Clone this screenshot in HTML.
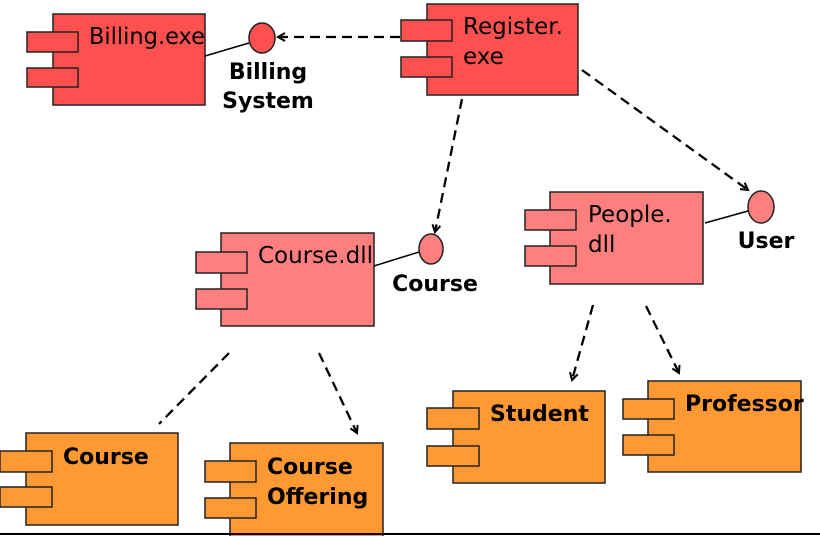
<!DOCTYPE html>
<html><head><meta charset="utf-8"><style>
html,body{margin:0;padding:0;background:#fff;width:820px;height:536px;overflow:hidden}
text{font-family:"DejaVu Sans","Liberation Sans",sans-serif;fill:#000}
.b{font-weight:bold}
rect,ellipse{stroke:#222;stroke-width:1.5}
.r{fill:#ff5050}.p{fill:#ff7f7f}.o{fill:#ff9933}
.d{stroke:#000;stroke-width:2.3;stroke-dasharray:10,6;fill:none}
</style></head><body>
<svg width="820" height="536" viewBox="0 0 820 536" xmlns="http://www.w3.org/2000/svg">
<defs><marker id="a" markerWidth="10" markerHeight="10" refX="8" refY="5" orient="auto" markerUnits="userSpaceOnUse"><path d="M1,1 L8,5 L1,9" fill="none" stroke="#000" stroke-width="2"/></marker></defs>
<rect class="r" x="53" y="14" width="152" height="91"/>
<rect class="r" x="27" y="32" width="51" height="20"/>
<rect class="r" x="27" y="68" width="51" height="19"/>
<text x="89" y="44" font-size="23" textLength="116" lengthAdjust="spacingAndGlyphs">Billing.exe</text>
<line x1="205" y1="56" x2="249" y2="43" stroke="#000" stroke-width="1.5"/>
<ellipse class="r" cx="262" cy="38" rx="13" ry="15"/>
<text class="b" x="268" y="79" font-size="22" text-anchor="middle">Billing</text>
<text class="b" x="268" y="108" font-size="22" text-anchor="middle">System</text>
<rect class="r" x="427" y="4" width="151" height="91"/>
<rect class="r" x="401" y="20" width="51" height="21"/>
<rect class="r" x="401" y="57" width="51" height="20"/>
<text x="463" y="34" font-size="23">Register.</text>
<text x="463" y="64" font-size="23">exe</text>
<line class="d" x1="400" y1="37" x2="278" y2="37" marker-end="url(#a)"/>
<line class="d" x1="462" y1="99" x2="435" y2="232" marker-end="url(#a)"/>
<line class="d" x1="582" y1="70" x2="748" y2="190" marker-end="url(#a)"/>
<rect class="p" x="221" y="233" width="153" height="93"/>
<rect class="p" x="196" y="252" width="51" height="21"/>
<rect class="p" x="196" y="289" width="51" height="20"/>
<text x="258" y="263" font-size="23" textLength="115" lengthAdjust="spacingAndGlyphs">Course.dll</text>
<line x1="374" y1="266" x2="419" y2="252" stroke="#000" stroke-width="1.5"/>
<ellipse class="p" cx="431" cy="249" rx="12" ry="15"/>
<text class="b" x="435" y="291" font-size="22" text-anchor="middle">Course</text>
<rect class="p" x="550" y="192" width="153" height="92"/>
<rect class="p" x="525" y="210" width="51" height="20"/>
<rect class="p" x="525" y="246" width="51" height="20"/>
<text x="588" y="222" font-size="23">People.</text>
<text x="588" y="252" font-size="23">dll</text>
<line x1="705" y1="223" x2="748" y2="211" stroke="#000" stroke-width="1.5"/>
<ellipse class="p" cx="761" cy="207" rx="13" ry="16"/>
<text class="b" x="766" y="248" font-size="22" text-anchor="middle">User</text>
<line class="d" x1="229" y1="353" x2="159" y2="424"/>
<line class="d" x1="319" y1="353" x2="357" y2="433" marker-end="url(#a)"/>
<line class="d" x1="593" y1="305" x2="572" y2="380" marker-end="url(#a)"/>
<line class="d" x1="646" y1="306" x2="679" y2="373" marker-end="url(#a)"/>
<rect class="o" x="26" y="433" width="152" height="92"/>
<rect class="o" x="0" y="451" width="52" height="21"/>
<rect class="o" x="0" y="487" width="52" height="20"/>
<text class="b" x="63" y="464" font-size="22">Course</text>
<rect class="o" x="230" y="443" width="153" height="95"/>
<rect class="o" x="205" y="461" width="51" height="21"/>
<rect class="o" x="205" y="498" width="51" height="20"/>
<text class="b" x="267" y="474" font-size="22">Course</text>
<text class="b" x="267" y="504" font-size="22">Offering</text>
<rect class="o" x="453" y="391" width="152" height="92"/>
<rect class="o" x="427" y="408" width="52" height="21"/>
<rect class="o" x="427" y="446" width="52" height="20"/>
<text class="b" x="490" y="421" font-size="22">Student</text>
<rect class="o" x="648" y="381" width="153" height="91"/>
<rect class="o" x="623" y="399" width="51" height="20"/>
<rect class="o" x="623" y="435" width="51" height="20"/>
<text class="b" x="685" y="411" font-size="22">Professor</text>
<line x1="0" y1="534" x2="820" y2="534" stroke="#000" stroke-width="2"/>
</svg>
</body></html>
